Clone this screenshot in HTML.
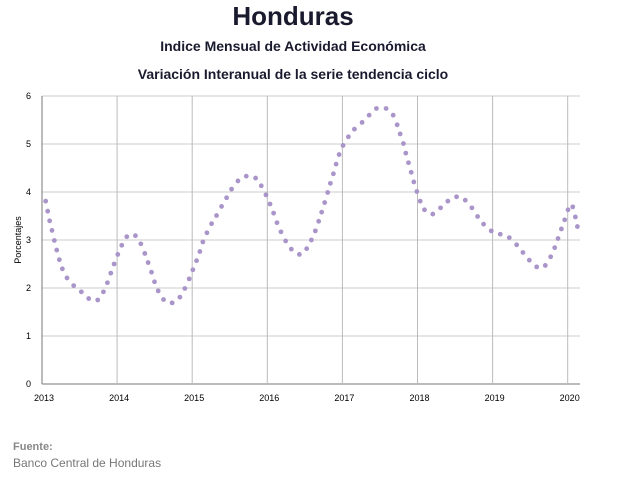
<!DOCTYPE html>
<html><head><meta charset="utf-8"><style>
body{margin:0;background:#fff;width:625px;height:483px;overflow:hidden;font-family:"Liberation Sans",sans-serif}
</style></head><body>
<svg width="625" height="483" style="position:absolute;left:0;top:0">
<text x="293" y="25" text-anchor="middle" font-size="26" font-weight="bold" fill="#1a1a2e">Honduras</text>
<text x="293" y="51" text-anchor="middle" font-size="14" font-weight="bold" fill="#1a1a2e">Indice Mensual de  Actividad Económica</text>
<text x="293" y="79" text-anchor="middle" font-size="14" font-weight="bold" fill="#1a1a2e">Variación Interanual de la serie tendencia ciclo</text>
<g id="grid"></g><g id="axes"></g><g id="dots"></g>
<text transform="translate(21,240) rotate(-90)" text-anchor="middle" font-size="9" fill="#000">Porcentajes</text>
<text x="13" y="450" font-size="11" font-weight="bold" fill="#888">Fuente:</text>
<text x="13" y="467" font-size="12" fill="#777">Banco Central de Honduras</text>
</svg>
<script>
const xTicks=[2013,2014,2015,2016,2017,2018,2019,2020];
const yTicks=[0,1,2,3,4,5,6];
const times=[0.049,.076,.102,.133,.164,.196,.231,.271,.333,.422,.524,.622,.742,.818,.871,.916,.960,1.009,1.062,1.129,1.244,1.316,1.369,1.413,1.458,1.498,1.547,1.618,1.733,1.836,1.902,1.960,2.009,2.058,2.102,2.142,2.196,2.258,2.324,2.391,2.458,2.524,2.609,2.720,2.844,2.920,2.982,3.036,3.084,3.129,3.182,3.244,3.320,3.427,3.524,3.587,3.640,3.684,3.724,3.764,3.804,3.840,3.880,3.916,3.956,4.009,4.080,4.160,4.262,4.356,4.453,4.582,4.676,4.729,4.769,4.813,4.844,4.880,4.916,4.951,4.991,5.036,5.093,5.204,5.307,5.404,5.520,5.636,5.724,5.800,5.880,5.982,6.102,6.222,6.320,6.404,6.489,6.587,6.702,6.773,6.827,6.871,6.916,6.960,7.004,7.067,7.102,7.129];
const values=[3.81,3.60,3.40,3.20,2.99,2.79,2.59,2.40,2.21,2.05,1.92,1.78,1.75,1.92,2.11,2.31,2.50,2.70,2.89,3.07,3.09,2.92,2.72,2.53,2.33,2.13,1.94,1.76,1.69,1.81,1.99,2.19,2.38,2.57,2.76,2.96,3.15,3.34,3.51,3.70,3.88,4.06,4.23,4.33,4.29,4.13,3.94,3.75,3.56,3.36,3.17,2.98,2.81,2.70,2.82,3.00,3.19,3.39,3.58,3.78,3.99,4.18,4.38,4.58,4.78,4.97,5.15,5.31,5.45,5.60,5.74,5.74,5.60,5.40,5.21,5.01,4.81,4.61,4.41,4.21,4.01,3.81,3.63,3.54,3.67,3.81,3.90,3.83,3.67,3.49,3.33,3.19,3.12,3.05,2.90,2.74,2.58,2.44,2.47,2.65,2.84,3.03,3.23,3.42,3.63,3.69,3.48,3.28];
const NS="http://www.w3.org/2000/svg";
const X0=42,X1=580,Y0=384,Y1=96;
const xs=t=>X0+t*75.1;
const ys=v=>Y0-(v/6)*(Y0-Y1);
function mk(tag,at,parent){const e=document.createElementNS(NS,tag);for(const k in at)e.setAttribute(k,at[k]);document.getElementById(parent).appendChild(e);return e;}
yTicks.forEach(v=>{
 const l=mk('line',{x1:X0,x2:X1,y1:ys(v),y2:ys(v),stroke:v===0?'#777':'#ccc','stroke-width':1},'grid');
 
 
 const t=mk('text',{x:31,y:ys(v)+3,'font-size':9,'text-anchor':'end',fill:'#000'},'axes');t.textContent=v;
 
 
});
xTicks.forEach(y=>{
 const x=xs(y-2013);
 const l=mk('line',{x1:x,x2:x,y1:Y1,y2:Y0,stroke:'#bbb','stroke-width':1},'grid');
 
 
 const t=mk('text',{x:x+2,y:401,'font-size':9,'text-anchor':'middle',fill:'#000'},'axes');t.textContent=y;
 
 
});
const ax=mk('line',{x1:X0,x2:X0,y1:Y1,y2:Y0,stroke:'#777'},'axes');


times.forEach((t,i)=>{
 const c=mk('circle',{cx:xs(t),cy:ys(values[i]),r:2.4,fill:'#a995c9'},'dots');
 
 
});
</script>
</body></html>
